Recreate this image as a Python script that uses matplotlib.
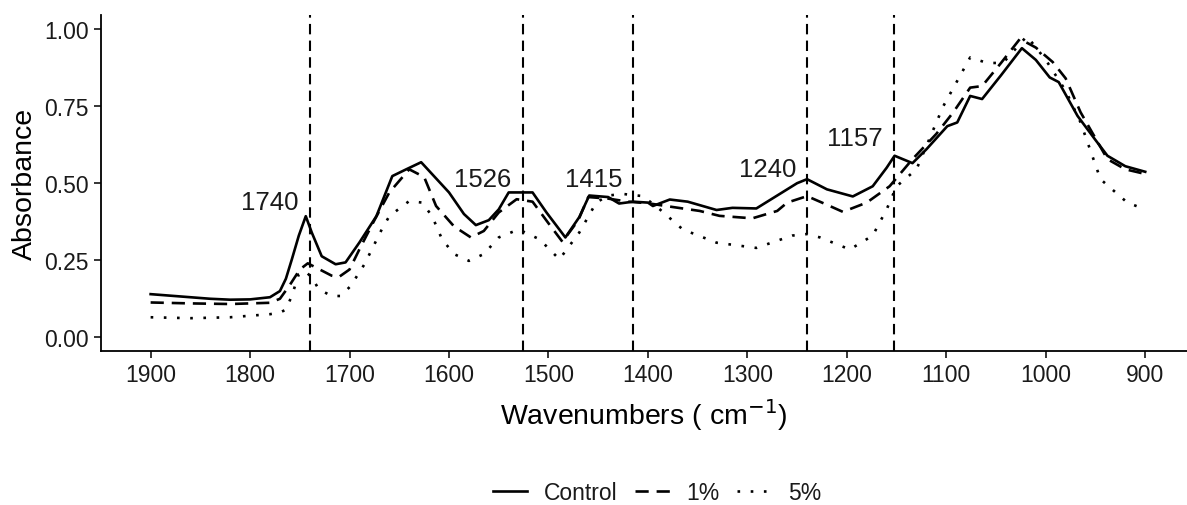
import numpy as np
import matplotlib.pyplot as plt

# wavenumbers (cm-1) and absorbance
wn_ctrl = [1900, 1880, 1860, 1840, 1820, 1800, 1780, 1770, 1764, 1758, 1751, 1744,
           1738, 1728, 1714, 1704, 1690, 1673, 1657, 1643, 1628, 1620, 1600, 1585,
           1573, 1560, 1550, 1540, 1516, 1502, 1483, 1469, 1459, 1440, 1429, 1415,
           1400, 1395, 1378, 1360, 1331, 1315, 1291, 1265, 1250, 1240, 1220, 1194,
           1174, 1160, 1152, 1134, 1120, 1099, 1089, 1076, 1064, 1045, 1024, 1010,
           996, 987, 968, 950, 938, 920, 900]
ctrl = [0.14, 0.135, 0.13, 0.125, 0.122, 0.123, 0.13, 0.15, 0.19, 0.253, 0.33, 0.393,
        0.34, 0.263, 0.237, 0.243, 0.308, 0.393, 0.523, 0.545, 0.568, 0.54, 0.47, 0.40,
        0.364, 0.38, 0.415, 0.47, 0.47, 0.405, 0.324, 0.39, 0.46, 0.455, 0.434, 0.44,
        0.437, 0.426, 0.447, 0.44, 0.413, 0.42, 0.418, 0.47, 0.50, 0.513, 0.48, 0.457,
        0.49, 0.55, 0.589, 0.565, 0.61, 0.685, 0.697, 0.783, 0.773, 0.85, 0.938, 0.90,
        0.843, 0.828, 0.718, 0.64, 0.589, 0.555, 0.537]

wn_1 = [1900, 1860, 1820, 1780, 1770, 1760, 1750, 1742, 1730, 1718, 1711, 1700,
        1690, 1675, 1660, 1640, 1625, 1613, 1595, 1578, 1565, 1550, 1532, 1516,
        1500, 1486, 1470, 1460, 1440, 1420, 1400, 1380, 1348, 1328, 1295, 1270,
        1260, 1240, 1220, 1204, 1180, 1157, 1134, 1110, 1093, 1076, 1064, 1045,
        1026, 1010, 993, 980, 965, 938, 920, 900]
pct1 = [0.113, 0.11, 0.108, 0.112, 0.125, 0.17, 0.22, 0.24, 0.22, 0.2, 0.195, 0.22,
        0.286, 0.38, 0.47, 0.545, 0.52, 0.426, 0.36, 0.324, 0.345, 0.405, 0.448, 0.44,
        0.37, 0.31, 0.38, 0.455, 0.45, 0.44, 0.435, 0.425, 0.41, 0.394, 0.386, 0.41,
        0.437, 0.458, 0.43, 0.407, 0.437, 0.49, 0.578, 0.66, 0.73, 0.81, 0.815, 0.89,
        0.968, 0.94, 0.893, 0.84, 0.73, 0.578, 0.545, 0.53]

wn_5 = [1900, 1860, 1820, 1780, 1770, 1764, 1758, 1751, 1745, 1738, 1731, 1718,
        1709, 1699, 1685, 1667, 1660, 1640, 1627, 1617, 1607, 1595, 1580, 1565,
        1550, 1530, 1509, 1489, 1469, 1452, 1440, 1425, 1405, 1388, 1365, 1331,
        1291, 1255, 1240, 1227, 1197, 1174, 1160, 1150, 1130, 1103, 1076, 1059,
        1043, 1019, 1000, 980, 965, 945, 918, 900]
pct5 = [0.065, 0.062, 0.065, 0.075, 0.08, 0.09, 0.135, 0.205, 0.215, 0.195, 0.156, 0.134,
        0.134, 0.166, 0.237, 0.354, 0.393, 0.442, 0.437, 0.393, 0.318, 0.27, 0.248, 0.27,
        0.324, 0.35, 0.318, 0.253, 0.34, 0.437, 0.46, 0.465, 0.458, 0.415, 0.35, 0.307,
        0.29, 0.33, 0.335, 0.324, 0.285, 0.33, 0.415, 0.49, 0.545, 0.75, 0.908, 0.89,
        0.89, 0.977, 0.9, 0.8, 0.697, 0.513, 0.437, 0.415]

peak_pos = [1740, 1526, 1415, 1240, 1153]
peak_lab = ['1740', '1526', '1415', '1240', '1157']
peak_lab_y = [0.44, 0.513, 0.513, 0.545, 0.646]

plt.rcParams['font.family'] = ['Liberation Sans', 'DejaVu Sans']

fig = plt.figure(figsize=(11.87, 5.06), dpi=100)
ax = fig.add_axes([0.085, 0.304, 0.915, 0.664])

ax.plot(wn_ctrl, ctrl, color='black', lw=1.9, ls='-', label='Control')
ax.plot(wn_1, pct1, color='black', lw=1.9, ls=(0, (5, 3)), label='1%')
ax.plot(wn_5, pct5, color='black', lw=1.9, ls=(0, (1, 4)), label='5%')

for p, lab, ly in zip(peak_pos, peak_lab, peak_lab_y):
    ax.axvline(p, color='black', lw=1.5, ls=(0, (5, 3)))
    ax.text(p + 11, ly, lab, ha='right', va='center', fontsize=18.5, color='#1a1a1a')

ax.set_xlim(1950, 858)
ax.set_ylim(-0.045, 1.045)
ax.set_xticks(np.arange(1900, 899, -100))
ax.set_yticks([0, 0.25, 0.5, 0.75, 1.0])
ax.set_yticklabels(['0.00', '0.25', '0.50', '0.75', '1.00'])
ax.tick_params(labelsize=16.5, length=5, width=1.1, colors='black', labelcolor='#1a1a1a')
for s in ['top', 'right']:
    ax.spines[s].set_visible(False)
for s in ['left', 'bottom']:
    ax.spines[s].set_linewidth(1.3)

ax.set_xlabel('Wavenumbers ( cm$^{-1}$)', fontsize=20.5, labelpad=7)
ax.set_ylabel('Absorbance', fontsize=20.5, labelpad=5)

leg = ax.legend(loc='center', bbox_to_anchor=(0.512, -0.42), ncol=3,
                frameon=False, fontsize=16.5, handlelength=1.5, columnspacing=0.8,
                handletextpad=0.7)
for t in leg.get_texts():
    t.set_color('#1a1a1a')

plt.savefig('out.png', dpi=100)
